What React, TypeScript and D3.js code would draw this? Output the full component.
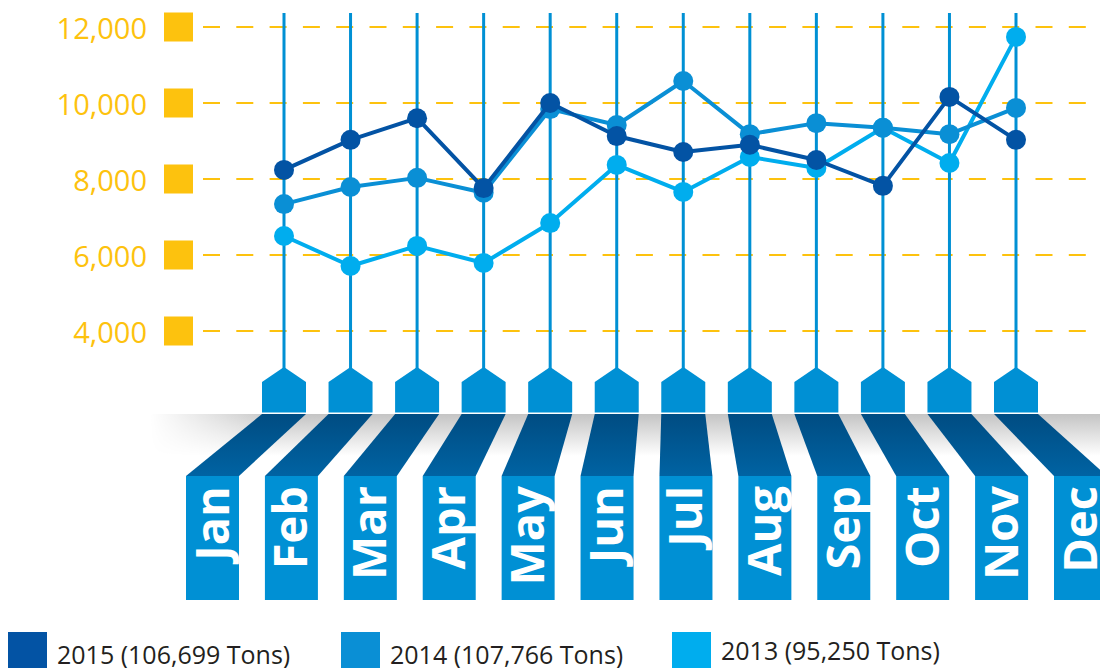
import { useRef, useEffect } from 'react';
import * as d3 from 'd3';

const MONTHS = ['Jan', 'Feb', 'Mar', 'Apr', 'May', 'Jun', 'Jul', 'Aug', 'Sep', 'Oct', 'Nov', 'Dec'];
const TONS_2015 = [8240, 9030, 9600, 7760, 10000, 9130, 8710, 8900, 8500, 7820, 10160, 9030];
const TONS_2014 = [7340, 7790, 8030, 7640, 9840, 9420, 10580, 9180, 9470, 9350, 9180, 9870];
const TONS_2013 = [6500, 5710, 6240, 5790, 6840, 8370, 7660, 8580, 8290, 9350, 8420, 11740];
const SERIES_LABELS = ['2015 (106,699 Tons)', '2014 (107,766 Tons)', '2013 (95,250 Tons)'];
const Y_TICKS = [4000, 6000, 8000, 10000, 12000];

const WIDTH = 1100;
const HEIGHT = 668;
const COLORS = ['#0353a4', '#0a8fd5', '#00adee'];
const TAB_BLUE = '#0090d4';
const GOLD = '#fdc20e';
const LEGEND_X = [8, 341, 672];
const LEGEND_DY = [0, 0, -4];

export default function App() {
  const svgRef = useRef<SVGSVGElement>(null);

  useEffect(() => {
    if (!svgRef.current) return;
    const svg = d3.select(svgRef.current);
    svg.selectAll('*').remove();

    const xTop = d3.scalePoint<string>().domain(MONTHS).range([284, 1016]);
    const xBot = d3.scalePoint<string>().domain(MONTHS).range([212.5, 1080.5]);
    const y = d3.scaleLinear().domain([4000, 12000]).range([331, 27]);

    const defs = svg.append('defs');
    const bandGrad = defs.append('linearGradient').attr('id', 'bandGrad')
      .attr('x1', 0).attr('y1', 0).attr('x2', 0).attr('y2', 1);
    bandGrad.append('stop').attr('offset', '0%').attr('stop-color', '#004c82');
    bandGrad.append('stop').attr('offset', '100%').attr('stop-color', '#0063a3');

    const shadowGrad = defs.append('linearGradient').attr('id', 'shadowGrad')
      .attr('x1', 0).attr('y1', 0).attr('x2', 0).attr('y2', 1);
    shadowGrad.append('stop').attr('offset', '0%').attr('stop-color', '#c4c4c4');
    shadowGrad.append('stop').attr('offset', '100%').attr('stop-color', '#ffffff');

    const fadeGrad = defs.append('linearGradient').attr('id', 'fadeGrad')
      .attr('gradientUnits', 'userSpaceOnUse')
      .attr('x1', 150).attr('y1', 0).attr('x2', 280).attr('y2', 0);
    fadeGrad.append('stop').attr('offset', '0%').attr('stop-color', '#000');
    fadeGrad.append('stop').attr('offset', '100%').attr('stop-color', '#fff');
    defs.append('mask').attr('id', 'fadeMask')
      .append('rect').attr('x', 0).attr('y', 380).attr('width', WIDTH).attr('height', 120)
      .attr('fill', 'url(#fadeGrad)');

    // y grid, squares and labels
    const axis = svg.append('g');
    axis.selectAll('line').data(Y_TICKS).enter().append('line')
      .attr('x1', 203).attr('x2', WIDTH)
      .attr('y1', d => y(d)).attr('y2', d => y(d))
      .attr('stroke', GOLD).attr('stroke-width', 2)
      .attr('stroke-dasharray', '17 16.3');
    axis.selectAll('rect').data(Y_TICKS).enter().append('rect')
      .attr('x', 164).attr('y', d => y(d) - 14.5)
      .attr('width', 29).attr('height', 29)
      .attr('fill', GOLD);
    axis.selectAll('text').data(Y_TICKS).enter().append('text')
      .attr('x', 147).attr('y', d => y(d) + 12)
      .attr('text-anchor', 'end')
      .attr('fill', GOLD)
      .attr('font-family', '"Open Sans", sans-serif')
      .attr('font-size', '29px')
      .text(d => d3.format(',')(d));

    // shadow under the shelf
    svg.append('rect')
      .attr('x', 150).attr('y', 414).attr('width', WIDTH - 150).attr('height', 42)
      .attr('fill', 'url(#shadowGrad)')
      .attr('mask', 'url(#fadeMask)');

    // stems and pentagon tabs
    svg.append('g').selectAll('line').data(MONTHS).enter().append('line')
      .attr('x1', d => xTop(d)!).attr('x2', d => xTop(d)!)
      .attr('y1', 13).attr('y2', 370)
      .attr('stroke', TAB_BLUE).attr('stroke-width', 3);

    svg.append('g').selectAll('polygon').data(MONTHS).enter().append('polygon')
      .attr('points', d => {
        const cx = xTop(d)!;
        return [[cx, 367], [cx + 22, 382], [cx + 22, 412.5], [cx - 22, 412.5], [cx - 22, 382]]
          .map(p => p.join(',')).join(' ');
      })
      .attr('fill', TAB_BLUE);

    // slanted bands
    svg.append('g').selectAll('polygon').data(MONTHS).enter().append('polygon')
      .attr('points', d => {
        const t = xTop(d)!;
        const b = xBot(d)!;
        return [[t - 22, 414], [t + 22, 414], [b + 26.5, 476], [b - 26.5, 476]]
          .map(p => p.join(',')).join(' ');
      })
      .attr('fill', 'url(#bandGrad)');

    // bottom month tabs
    const tabs = svg.append('g');
    tabs.selectAll('rect').data(MONTHS).enter().append('rect')
      .attr('x', d => xBot(d)! - 26.5).attr('y', 476)
      .attr('width', 53).attr('height', 124)
      .attr('fill', TAB_BLUE);
    tabs.selectAll('text').data(MONTHS).enter().append('text')
      .attr('transform', d => `translate(${xBot(d)! + 16},486) rotate(-90)`)
      .attr('text-anchor', 'end')
      .attr('fill', '#ffffff')
      .attr('font-family', '"Open Sans", sans-serif')
      .attr('font-weight', 700)
      .attr('font-size', '47px')
      .text(d => d);

    // series lines and dots, 2013 at the back
    const series = [TONS_2015, TONS_2014, TONS_2013];
    const line = d3.line<number>()
      .x((_, i) => xTop(MONTHS[i])!)
      .y(d => y(d));
    [2, 1, 0].forEach(si => {
      const g = svg.append('g');
      g.append('path')
        .attr('d', line(series[si]))
        .attr('fill', 'none')
        .attr('stroke', COLORS[si])
        .attr('stroke-width', 4)
        .attr('stroke-linejoin', 'round');
      g.selectAll('circle').data(series[si]).enter().append('circle')
        .attr('cx', (_, i) => xTop(MONTHS[i])!)
        .attr('cy', d => y(d))
        .attr('r', 10)
        .attr('fill', COLORS[si]);
    });

    // legend
    const legend = svg.append('g');
    SERIES_LABELS.forEach((label, i) => {
      legend.append('rect')
        .attr('x', LEGEND_X[i]).attr('y', 632)
        .attr('width', 39).attr('height', 36)
        .attr('fill', COLORS[i]);
      legend.append('text')
        .attr('x', LEGEND_X[i] + 49).attr('y', 664 + LEGEND_DY[i])
        .attr('fill', '#231f20')
        .attr('font-family', '"Open Sans", sans-serif')
        .attr('font-size', '25px')
        .text(label);
    });
  }, []);

  return (
    <svg
      ref={svgRef}
      width={WIDTH}
      height={HEIGHT}
      style={{ position: 'absolute', left: 0, top: 0, background: '#ffffff' }}
    />
  );
}
